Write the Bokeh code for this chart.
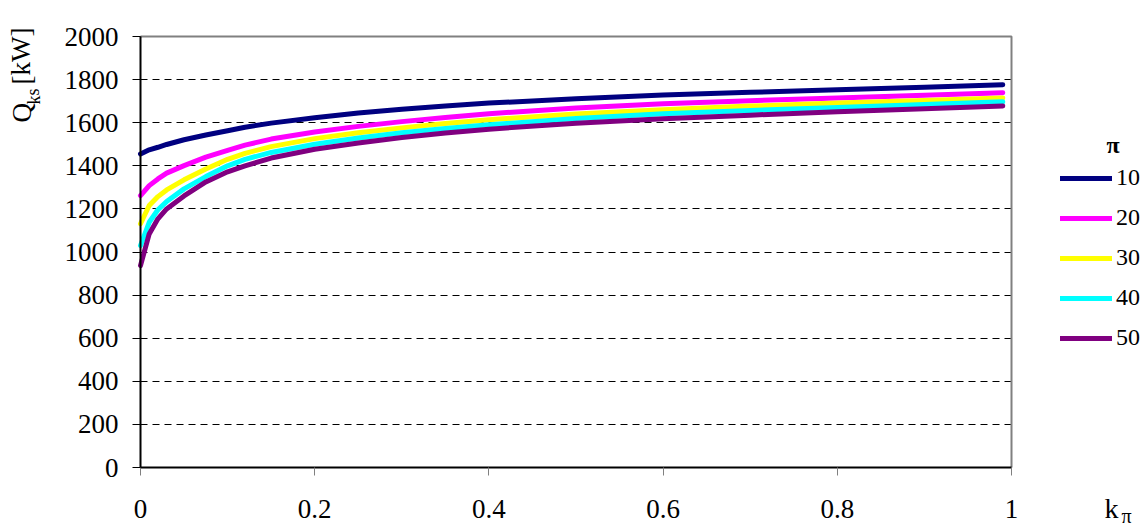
from bokeh.plotting import figure
from bokeh.models import Range1d, FixedTicker, Legend, LegendItem, Label
from bokeh.embed import file_html
from bokeh.resources import INLINE

# ---- data ----
k_pi = [0, 0.01, 0.02, 0.03, 0.05, 0.075, 0.1, 0.12, 0.15, 0.2, 0.25, 0.3, 0.35, 0.4, 0.5, 0.6, 0.7, 0.8, 0.9, 0.99]
q_10 = [1455, 1474, 1486, 1499, 1521, 1543, 1563, 1579, 1598, 1623, 1645, 1662, 1677, 1691, 1711, 1728, 1741, 1753, 1765, 1776]
q_20 = [1262, 1308, 1339, 1366, 1401, 1440, 1472, 1496, 1524, 1557, 1583, 1605, 1624, 1642, 1668, 1688, 1702, 1715, 1727, 1739]
q_30 = [1131, 1216, 1257, 1288, 1335, 1385, 1430, 1458, 1489, 1526, 1553, 1576, 1596, 1614, 1640, 1660, 1677, 1691, 1703, 1715]
q_40 = [1030, 1138, 1196, 1234, 1293, 1350, 1400, 1430, 1462, 1500, 1529, 1553, 1573, 1590, 1619, 1641, 1657, 1671, 1684, 1697]
q_50 = [937, 1084, 1154, 1200, 1260, 1325, 1372, 1400, 1436, 1477, 1506, 1531, 1552, 1570, 1598, 1618, 1635, 1651, 1665, 1678]
series_names = ["10", "20", "30", "40", "50"]
series_values = [q_10, q_20, q_30, q_40, q_50]
series_colors = ["#000080", "#FF00FF", "#FFFF00", "#00FFFF", "#800080"]
x_ticks = [0, 0.2, 0.4, 0.6, 0.8, 1.0]
x_tick_labels = {0: "0", 0.2: "0.2", 0.4: "0.4", 0.6: "0.6", 0.8: "0.8", 1.0: "1"}
y_ticks = list(range(0, 2001, 200))

FONT = "Liberation Serif"

# ---- layout: the plot box sits at these canvas pixels ----
W, H = 1147, 525
BOX_L, BOX_R, BOX_T, BOX_B = 140, 1011, 36, 467
x_lo, x_hi = x_ticks[0], x_ticks[-1]
y_lo, y_hi = y_ticks[0], y_ticks[-1]
xs = (BOX_R - BOX_L) / (x_hi - x_lo)       # px per x unit
ys = (BOX_B - BOX_T) / (y_hi - y_lo)       # px per y unit

x_range = Range1d(x_lo - BOX_L / xs, x_hi + (W - BOX_R) / xs)
y_range = Range1d(y_lo - (H - BOX_B) / ys, y_hi + BOX_T / ys)

def X(px):
    return x_lo + (px - BOX_L) / xs

def Y(py):
    return y_lo + (BOX_B - py) / ys

p = figure(width=W, height=H, output_backend="svg", toolbar_location=None,
           x_range=x_range, y_range=y_range, min_border=0)
p.background_fill_color = "white"
p.border_fill_color = "white"
p.outline_line_color = None

# grid (horizontal dashed lines only, inside the plot box)
p.xgrid.visible = False
grid = p.ygrid[0]
grid.ticker = FixedTicker(ticks=y_ticks)
grid.grid_line_color = "black"
grid.grid_line_dash = "7 5"
grid.grid_line_width = 1
if "cross_bounds" in grid.properties():
    grid.cross_bounds = (x_lo, x_hi)
else:
    grid.visible = False
    p.segment(x0=[x_lo] * len(y_ticks), x1=[x_hi] * len(y_ticks), y0=y_ticks, y1=y_ticks,
              line_color="black", line_dash="7 5", line_width=1)

# axes pinned at the data origin
for ax in p.yaxis:
    ax.fixed_location = x_lo
    ax.bounds = (y_lo, y_hi)
    ax.ticker = FixedTicker(ticks=y_ticks)
    ax.axis_line_color = "black"
    ax.axis_line_width = 2
    ax.major_tick_out = 8
    ax.major_tick_in = 0
    ax.minor_tick_out = 0
    ax.minor_tick_in = 0
    ax.major_tick_line_color = "black"
    ax.major_label_standoff = 14
    ax.major_label_text_font = FONT
    ax.major_label_text_font_size = "27px"
    ax.major_label_text_color = "black"

for ax in p.xaxis:
    ax.fixed_location = y_lo
    ax.bounds = (x_lo, x_hi)
    ax.ticker = FixedTicker(ticks=x_ticks)
    ax.major_label_overrides = x_tick_labels
    ax.axis_line_color = "black"
    ax.axis_line_width = 2
    ax.major_tick_out = 8
    ax.major_tick_in = 0
    ax.major_tick_line_color = "#808080"
    ax.minor_tick_out = 0
    ax.minor_tick_in = 0
    ax.major_label_standoff = 24
    ax.major_label_text_font = FONT
    ax.major_label_text_font_size = "27px"
    ax.major_label_text_color = "black"

# gray plot-area border on top and right
p.line(x=[x_lo, x_hi, x_hi], y=[y_hi, y_hi, y_lo], line_color="#808080", line_width=2)

items = []
for name, vals, col in zip(series_names, series_values, series_colors):
    r = p.line(k_pi, vals, line_color=col, line_width=5, line_cap="round", line_join="round")
    items.append(LegendItem(label=name, renderers=[r]))

legend = Legend(items=items, location=(1060, 174), orientation="vertical",
                glyph_width=52, glyph_height=20, label_height=20, spacing=13,
                padding=0, margin=0, label_standoff=4,
                label_text_font=FONT, label_text_font_size="24px", label_text_color="black",
                label_text_baseline="middle",
                background_fill_alpha=0, border_line_color=None)
p.add_layout(legend)

def txt(x, y, t, size, angle=0.0, style="normal"):
    return Label(x=x, y=y, text=t, angle=angle, text_font=FONT, text_font_size=size,
                 text_font_style=style, text_align="left", text_baseline="alphabetic",
                 text_color="black")

for a in [
    txt(X(21), Y(122), "Q", "27px", 1.5708),
    txt(X(33), Y(104), "ks", "18px", 1.5708),
    txt(X(21), Y(84), "[kW]", "27px", 1.5708),
    txt(X(1104), Y(508), "k", "28px"),
    txt(X(1121), Y(515), "π", "20px"),
    txt(X(1106), Y(144), "π", "24px", style="bold"),
]:
    p.add_layout(a)

open("out.html", "w").write(file_html(p, INLINE))
